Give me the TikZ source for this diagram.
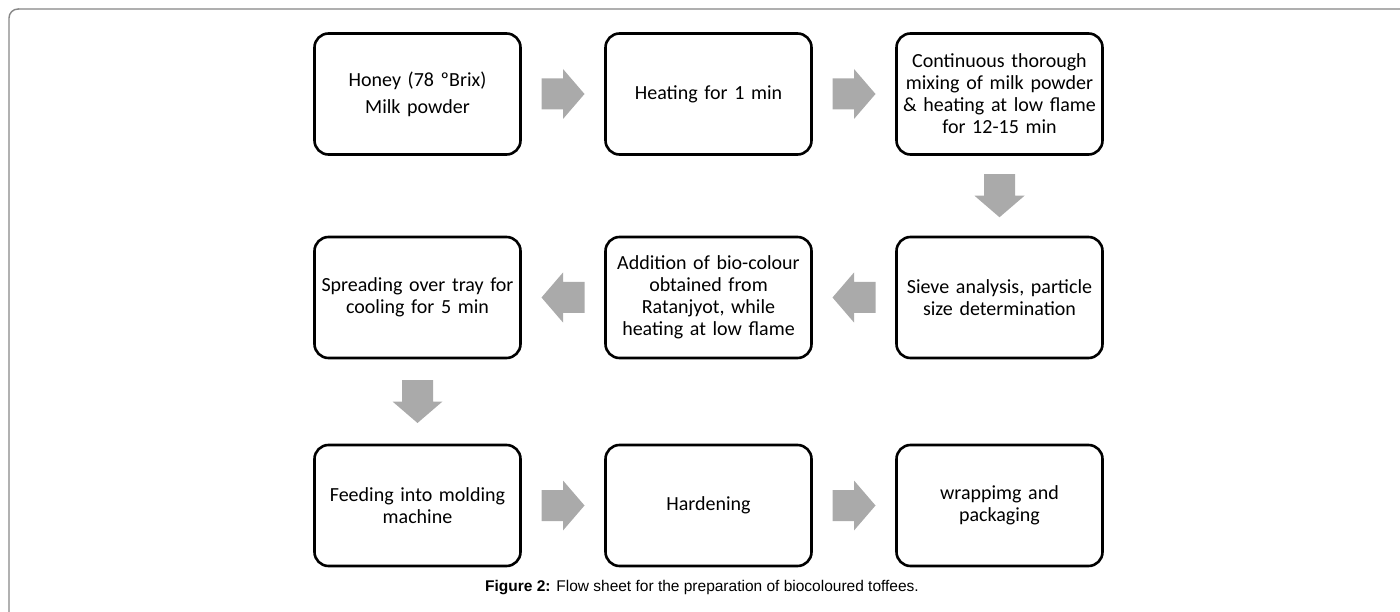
\documentclass[tikz,border=0pt]{standalone}
\usepackage{fontspec}
\setmainfont{Carlito}
\newfontfamily\capfont{Liberation Sans}
\usetikzlibrary{calc}
\definecolor{arrowgray}{RGB}{170,170,170}
\definecolor{framegray}{RGB}{175,175,175}
\definecolor{framedark}{RGB}{135,135,135}
\tikzset{
  stepbox/.style={draw=black, line width=2.6pt, rounded corners=14pt,
    minimum width=206pt, minimum height=121pt, inner sep=0pt,
    align=center, text width=196pt,
    font=\fontsize{20}{22}\selectfont},
  blockarrow/.pic={\fill[arrowgray] (-21.5,-15.5) -- (0,-15.5) -- (0,-25) -- (21.5,0) -- (0,25) -- (0,15.5) -- (-21.5,15.5) -- cycle;}
}
\begin{document}
\begin{tikzpicture}[x=1pt,y=-1pt]
\useasboundingbox (0,0) rectangle (1400,612);
\draw[framegray, line width=1.4pt] (18,9) -- (1400,9);
\draw[framedark, line width=1.4pt, rounded corners=9pt] (9,612) -- (9,9) -- (19,9);
% row 1
\node[stepbox] (a) at (417.5,94) {Honey (78 ºBrix)\\[5pt]Milk powder};
\node[stepbox] (b) at (708.5,94) {Heating for 1 min};
\node[stepbox] (c) at (999.5,94) {Continuous thorough\\mixing of milk powder\\\& heating at low flame\\for 12-15 min};
% row 2
\node[stepbox] (d) at (999.5,297.5) {Sieve analysis, particle\\size determination};
\node[stepbox] (e) at (708.5,297.5) {Addition of bio-colour\\obtained from\\Ratanjyot, while\\heating at low flame};
\node[stepbox] (f) at (417.5,297.5) {Spreading over tray for\\cooling for 5 min};
% row 3
\node[stepbox] (g) at (417.5,505.5) {Feeding into molding\\machine};
\node[stepbox] (h) at (708.5,505.5) {Hardening};
\node[stepbox] (i) at (999.5,505.5) {wrappimg and\\packaging};
% arrows
\pic at ($(a.east)!0.5!(b.west)$) {blockarrow};
\pic at ($(b.east)!0.5!(c.west)$) {blockarrow};
\pic[rotate=-90] at ($(c.south)!0.5!(d.north)$) {blockarrow};
\pic[rotate=180] at ($(d.west)!0.5!(e.east)$) {blockarrow};
\pic[rotate=180] at ($(e.west)!0.5!(f.east)$) {blockarrow};
\pic[rotate=-90] at ($(f.south)!0.5!(g.north)$) {blockarrow};
\pic at ($(g.east)!0.5!(h.west)$) {blockarrow};
\pic at ($(h.east)!0.5!(i.west)$) {blockarrow};
% caption
\node[font=\capfont\fontsize{15.5}{18}\selectfont, inner sep=0pt] (cap) at (702,588) {\textbf{Figure 2:} Flow sheet for the preparation of biocoloured toffees.};
\end{tikzpicture}
\end{document}
